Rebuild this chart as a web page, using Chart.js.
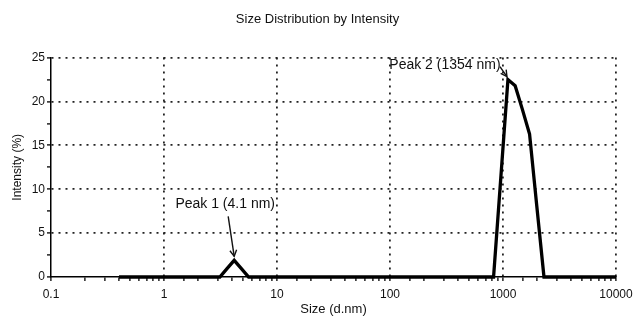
<!DOCTYPE html>
<html>
<head>
<meta charset="utf-8">
<script src="https://cdn.jsdelivr.net/npm/chart.js@4/dist/chart.umd.min.js"></script>
<style>
  html, body { margin: 0; padding: 0; background: #fff; }
  #wrap { width: 635px; height: 322px; position: relative; }
</style>
</head>
<body>
<div id="wrap"><canvas id="sizeChart"></canvas></div>
<script>
// ============================================
// Data
// ============================================

// particle size bins (d.nm) where the curve changes
const sizes = [0.4, 3.12, 3.61, 4.18, 4.84, 5.61, 825, 955, 1106, 1281, 1484, 1718, 1990, 2305, 10000];
// intensity (%)
const intensity = [0, 0, 0.95, 1.9, 0.95, 0, 0, 11.2, 22.5, 21.8, 19.1, 16.3, 8.1, 0, 0];

const xTickLabels = ["0.1", "1", "10", "100", "1000", "10000"];
const yTickLabels = ["0", "5", "10", "15", "20", "25"];

const peakNotes = [
    { text: "Peak 1 (4.1 nm)", index: 3 },
    { text: "Peak 2 (1354 nm)", index: 8 },
];

const FONT = "'Liberation Sans', Arial, sans-serif";
const INK = "#111";

function isDecade(v) {
    const l = Math.log10(v);
    return Math.abs(l - Math.round(l)) < 1e-6;
}

function fmt(v) {
    return String(Number(v.toPrecision(6)));
}

// ============================================
// Peak annotations
// ============================================

const peakPlugin = {
    id: "peakNotes",
    afterDatasetsDraw(chart) {
        const { ctx, scales } = chart;
        ctx.save();
        ctx.fillStyle = INK;
        ctx.strokeStyle = INK;
        ctx.font = "14px " + FONT;
        ctx.textAlign = "center";
        ctx.textBaseline = "middle";
        ctx.lineWidth = 1.4;

        peakNotes.forEach((p, i) => {
            const px = scales.x.getPixelForValue(sizes[p.index]);
            const py = scales.y.getPixelForValue(intensity[p.index]);
            let tipX, tipY, fromX, fromY, tx, ty;
            if (i === 0) {
                tipX = px; tipY = py - 4;
                fromX = tipX - 6; fromY = tipY - 40;
                tx = tipX - 9; ty = tipY - 52;
            } else {
                tipX = px - 1; tipY = py - 3;
                fromX = tipX - 7; fromY = tipY - 10;
                tx = tipX - 62; ty = tipY - 11;
            }
            ctx.fillText(p.text, tx, ty);

            ctx.beginPath();
            ctx.moveTo(fromX, fromY);
            ctx.lineTo(tipX, tipY);
            ctx.stroke();

            const ang = Math.atan2(tipY - fromY, tipX - fromX);
            const len = 7;
            ctx.beginPath();
            ctx.moveTo(tipX - len * Math.cos(ang - 0.5), tipY - len * Math.sin(ang - 0.5));
            ctx.lineTo(tipX, tipY);
            ctx.lineTo(tipX - len * Math.cos(ang + 0.5), tipY - len * Math.sin(ang + 0.5));
            ctx.stroke();
        });
        ctx.restore();
    },
};

// ============================================
// Chart
// ============================================

const points = sizes.map((s, i) => ({ x: s, y: intensity[i] }));

new Chart(document.getElementById("sizeChart"), {
    type: "line",
    data: {
        datasets: [
            {
                label: "Intensity",
                data: points,
                borderColor: "#000",
                borderWidth: 3.3,
                pointRadius: 0,
                tension: 0,
                fill: false,
                clip: false,
            },
        ],
    },
    options: {
        responsive: true,
        maintainAspectRatio: false,
        animation: false,
        layout: { padding: { left: 0, right: 0, top: 0, bottom: 0 } },
        plugins: {
            legend: { display: false },
            tooltip: { enabled: false },
            title: {
                display: true,
                text: "Size Distribution by Intensity",
                color: INK,
                font: { family: FONT, size: 13, weight: "normal" },
                padding: { top: 12, bottom: 30 },
            },
        },
        scales: {
            x: {
                type: "logarithmic",
                min: 0.1,
                max: 10000,
                afterFit: (s) => {
                    s.height = 45;
                    s.paddingLeft = 0;
                    s.paddingRight = 19;
                },
                border: { display: true, color: "#000", width: 1.5, dash: [2, 5] },
                grid: {
                    color: (c) => {
                        const v = c.tick && c.tick.value;
                        return v && isDecade(v) && v > 0.1 ? "#222" : "rgba(0,0,0,0)";
                    },
                    lineWidth: 1.8,
                    tickColor: "#000",
                    tickLength: 4,
                    tickWidth: 1.3,
                },
                ticks: {
                    autoSkip: false,
                    maxRotation: 0,
                    padding: 6,
                    color: INK,
                    font: { family: FONT, size: 12 },
                    callback: function (value) {
                        const s = fmt(value);
                        return isDecade(value) && xTickLabels.includes(s) ? s : "";
                    },
                },
                title: {
                    display: true,
                    text: "Size (d.nm)",
                    color: INK,
                    font: { family: FONT, size: 13 },
                    padding: { top: 0, bottom: 5 },
                },
            },
            y: {
                min: 0,
                max: 25,
                afterFit: (s) => { s.width = 51; },
                border: { display: true, color: "#000", width: 1.5, dash: [2, 5] },
                grid: {
                    color: (c) => {
                        const v = c.tick && c.tick.value;
                        return v > 0 && v % 5 === 0 ? "#222" : "rgba(0,0,0,0)";
                    },
                    lineWidth: 1.8,
                    tickColor: "#000",
                    tickLength: 4,
                    tickWidth: 1.3,
                },
                ticks: {
                    stepSize: 2.5,
                    padding: 2,
                    color: INK,
                    font: { family: FONT, size: 12 },
                    callback: (value) => {
                        const s = String(value);
                        return yTickLabels.includes(s) ? s : "";
                    },
                },
                title: {
                    display: true,
                    text: "Intensity (%)",
                    color: INK,
                    font: { family: FONT, size: 12 },
                    padding: { top: 10, bottom: 0 },
                },
            },
        },
    },
    plugins: [peakPlugin],
});
</script>
</body>
</html>
